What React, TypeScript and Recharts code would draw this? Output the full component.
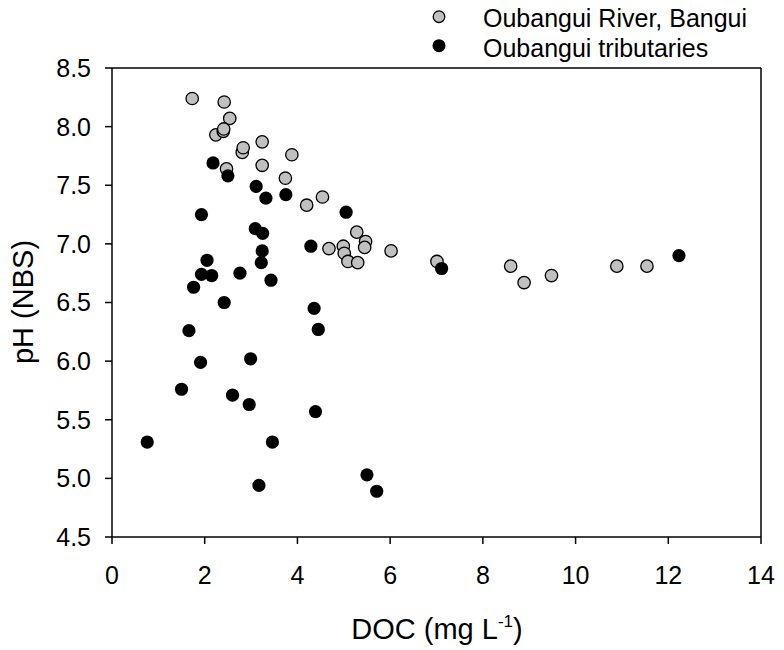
import { ScatterChart, Scatter, XAxis, YAxis, ReferenceLine } from 'recharts'

const FONT = '"Liberation Sans", Arial, Helvetica, sans-serif'

// Oubangui River at Bangui (grey)
const riverDoc = [1.73, 2.42, 2.54, 2.24, 2.4, 2.41, 2.81, 2.83, 3.24, 3.88, 3.24, 2.47, 3.74, 4.54, 4.2, 5.28, 5.47, 5.45, 4.99, 5.01, 4.68, 5.09, 5.3, 6.02, 7.01, 8.6, 8.89, 9.48, 10.89, 11.54]
const riverPh = [8.24, 8.21, 8.07, 7.93, 7.96, 7.98, 7.78, 7.82, 7.87, 7.76, 7.67, 7.64, 7.56, 7.4, 7.33, 7.1, 7.02, 6.97, 6.98, 6.92, 6.96, 6.85, 6.84, 6.94, 6.85, 6.81, 6.67, 6.73, 6.81, 6.81]

// tributaries (black)
const tribDoc = [2.18, 2.5, 3.11, 3.32, 3.75, 1.93, 5.05, 3.09, 3.25, 4.29, 3.24, 3.22, 2.05, 1.93, 2.15, 2.76, 1.76, 3.43, 7.11, 12.23, 2.42, 4.36, 1.66, 4.45, 1.91, 2.99, 1.5, 2.6, 2.96, 4.39, 0.76, 3.46, 3.17, 5.5, 5.71]
const tribPh = [7.69, 7.58, 7.49, 7.39, 7.42, 7.25, 7.27, 7.13, 7.09, 6.98, 6.94, 6.84, 6.86, 6.74, 6.73, 6.75, 6.63, 6.69, 6.79, 6.9, 6.5, 6.45, 6.26, 6.27, 5.99, 6.02, 5.76, 5.71, 5.63, 5.57, 5.31, 5.31, 4.94, 5.03, 4.89]

const xTicks = [0, 2, 4, 6, 8, 10, 12, 14]
const yTicks = [4.5, 5, 5.5, 6, 6.5, 7, 7.5, 8, 8.5]

const seriesNames = ['Oubangui River, Bangui', 'Oubangui tributaries']
const seriesFills = ['#c0c0c0', '#000000']

const river = riverDoc.map((x, i) => ({ x, y: riverPh[i] }))
const tribs = tribDoc.map((x, i) => ({ x, y: tribPh[i] }))

const greyDot = (p: any) => (
  <circle cx={p.cx} cy={p.cy} r={6.2} fill={seriesFills[0]} stroke="#000" strokeWidth={1.3} />
)
const blackDot = (p: any) => <circle cx={p.cx} cy={p.cy} r={6.6} fill={seriesFills[1]} />

const LegendBox = () => (
  <svg width={360} height={64} style={{ position: 'absolute', left: 420, top: 0 }}>
    {seriesNames.map((name, i) => (
      <g key={name}>
        <circle
          cx={19}
          cy={16.7 + i * 29}
          r={i === 0 ? 5.8 : 6.5}
          fill={seriesFills[i]}
          stroke="#000"
          strokeWidth={i === 0 ? 1.3 : 0}
        />
        <text x={63} y={26.5 + i * 30.5} fontSize={25} fontFamily={FONT} fill="#000">
          {name}
        </text>
      </g>
    ))}
  </svg>
)

const XTitle = () => (
  <text x={437} y={639} textAnchor="middle" fontSize={29} fontFamily={FONT} fill="#000">
    DOC (mg L
    <tspan fontSize={17} dy={-12}>-1</tspan>
    <tspan dy={12}>)</tspan>
  </text>
)

const YTitle = () => (
  <text
    x={0}
    y={0}
    transform="translate(33,302) rotate(-90)"
    textAnchor="middle"
    fontSize={29}
    fontFamily={FONT}
    fill="#000"
  >
    pH (NBS)
  </text>
)

export default function App() {
  return (
    <div style={{ position: 'absolute', left: 0, top: 0, width: 784, height: 650, background: '#fff' }}>
      <ScatterChart width={784} height={650} margin={{ top: 68, right: 23, bottom: 53, left: 12 }}>
        <XAxis
          type="number"
          dataKey="x"
          domain={[0, 14]}
          ticks={xTicks}
          height={60}
          axisLine={{ stroke: '#000', strokeWidth: 1.5 }}
          tickLine={{ stroke: '#000', strokeWidth: 1.5 }}
          tickSize={7}
          tickMargin={22}
          tick={{ fill: '#000', fontSize: 25, fontFamily: FONT }}
          label={<XTitle />}
        />
        <YAxis
          type="number"
          dataKey="y"
          domain={[4.5, 8.5]}
          ticks={yTicks}
          width={100}
          axisLine={{ stroke: '#000', strokeWidth: 1.5 }}
          tickLine={{ stroke: '#000', strokeWidth: 1.5 }}
          tickSize={7}
          tickMargin={14}
          tickFormatter={(v: number) => v.toFixed(1)}
          tick={{ fill: '#000', fontSize: 25, fontFamily: FONT }}
          label={<YTitle />}
        />
        <ReferenceLine y={8.5} stroke="#000" strokeWidth={1.5} />
        <ReferenceLine x={14} stroke="#000" strokeWidth={1.5} />
        <Scatter name={seriesNames[0]} data={river} shape={greyDot} isAnimationActive={false} />
        <Scatter name={seriesNames[1]} data={tribs} shape={blackDot} isAnimationActive={false} />
      </ScatterChart>
      <LegendBox />
    </div>
  )
}
